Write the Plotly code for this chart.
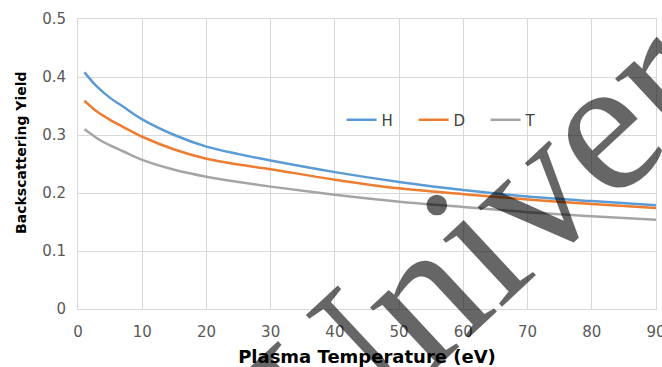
import plotly.graph_objects as go

temperature = [1, 2, 3, 5, 7, 10, 15, 20, 25, 30, 40, 50, 60, 70, 80, 90]
yield_H = [0.408, 0.395, 0.383, 0.364, 0.349, 0.327, 0.300, 0.280, 0.267, 0.256, 0.236, 0.219, 0.205, 0.194, 0.186, 0.179]
yield_D = [0.359, 0.349, 0.340, 0.326, 0.314, 0.297, 0.275, 0.259, 0.249, 0.241, 0.223, 0.208, 0.198, 0.189, 0.181, 0.174]
yield_T = [0.310, 0.302, 0.294, 0.282, 0.272, 0.257, 0.240, 0.228, 0.219, 0.211, 0.197, 0.185, 0.176, 0.167, 0.160, 0.154]
series_names = ["H", "D", "T"]
series_colors = ["#5B9BD5", "#ED7D31", "#A5A5A5"]
y_title = "Backscattering Yield"
x_title = "Plasma Temperature (eV)"
watermark_text = "Univer"

fig = go.Figure()
for name, vals, col in zip(series_names, [yield_H, yield_D, yield_T], series_colors):
    fig.add_trace(go.Scatter(x=temperature, y=vals, name=name, mode="lines",
                             line=dict(color=col, width=2.5, shape="spline")))

fig.update_layout(
    width=662, height=367,
    margin=dict(l=78, r=6, t=19, b=58, autoexpand=False),
    paper_bgcolor="white", plot_bgcolor="white",
    font=dict(family="DejaVu Sans", color="#595959", size=14),
    showlegend=True,
    legend=dict(orientation="h", x=0.456, y=0.652, xanchor="left", yanchor="middle",
                bgcolor="rgba(0,0,0,0)", font=dict(size=15, color="#404040"),
                entrywidth=27, entrywidthmode="pixels", itemwidth=30),
    xaxis=dict(range=[0, 90], dtick=10, showgrid=True, gridcolor="#d9d9d9", gridwidth=1,
               zeroline=False, showline=True, linecolor="#d9d9d9", mirror=True,
               ticks="", ticklabelstandoff=9, ticklabeloverflow="allow",
               tickfont=dict(size=15, color="#595959"),
               title=dict(text="<b>" + x_title + "</b>", font=dict(size=18, color="#000000"), standoff=10)),
    yaxis=dict(range=[0, 0.5], dtick=0.1, showgrid=True, gridcolor="#d9d9d9", gridwidth=1,
               zeroline=False, showline=True, linecolor="#d9d9d9", mirror=True,
               ticks="", ticklabelstandoff=8, ticklabeloverflow="allow",
               tickfont=dict(size=15, color="#595959")),
)

fig.add_annotation(xref="paper", yref="paper", x=-0.099, y=0.541, xanchor="center", yanchor="middle",
                   text="<b>" + y_title + "</b>", showarrow=False, textangle=-90,
                   font=dict(family="DejaVu Sans", size=14, color="#000000"))

fig.add_annotation(xref="paper", yref="paper", x=0.692, y=0.241, xanchor="center", yanchor="middle",
                   text=watermark_text, showarrow=False, textangle=-43,
                   font=dict(family="Liberation Serif", size=195, color="rgba(0,0,0,0.6)"))

fig.write_html("out.html")
